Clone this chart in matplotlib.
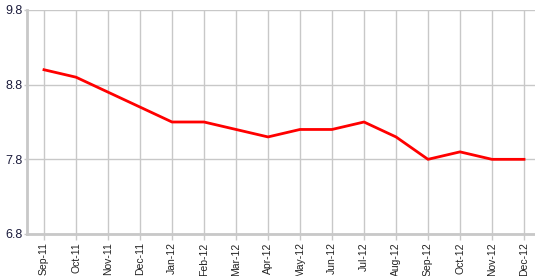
import matplotlib
matplotlib.use("Agg")
import matplotlib.pyplot as plt

months = ["Sep-11", "Oct-11", "Nov-11", "Dec-11", "Jan-12", "Feb-12", "Mar-12", "Apr-12",
          "May-12", "Jun-12", "Jul-12", "Aug-12", "Sep-12", "Oct-12", "Nov-12", "Dec-12"]
values = [9.0, 8.9, 8.7, 8.5, 8.3, 8.3, 8.2, 8.1, 8.2, 8.2, 8.3, 8.1, 7.8, 7.9, 7.8, 7.8]
yticks = [6.8, 7.8, 8.8, 9.8]

plt.rcParams['font.family'] = ['Liberation Sans', 'DejaVu Sans']

fig = plt.figure(figsize=(5.35, 2.76), dpi=100)
ax = fig.add_axes([27/535, 42/276, 1 - 27/535, 224/276])

x = list(range(len(months)))
ax.plot(x, values, color='#ff0000', lw=2.0, solid_joinstyle='round', zorder=3)

ax.set_xlim(-17/32, len(months) - 1 + 11/32)
ax.set_ylim(6.8, 9.8)
ax.set_yticks(yticks)
ax.set_yticklabels([f"{v:.1f}" for v in yticks], fontsize=9, color='#1c1c3c')
ax.set_xticks(x)
ax.set_xticklabels(months, rotation=90, fontsize=7.5, color='#222222')

ax.grid(True, color='#c8c8c8', lw=1.0, zorder=0)
ax.set_axisbelow(True)
for s in ['top', 'right']:
    ax.spines[s].set_visible(False)
for s in ['left', 'bottom']:
    ax.spines[s].set_color('#c8c8c8')
    ax.spines[s].set_linewidth(2.0)
ax.tick_params(axis='x', length=4, width=1, color='#c8c8c8', pad=2)
ax.tick_params(axis='y', length=2, width=1, color='#c8c8c8', pad=1)

fig.savefig("out.png", dpi=100)
